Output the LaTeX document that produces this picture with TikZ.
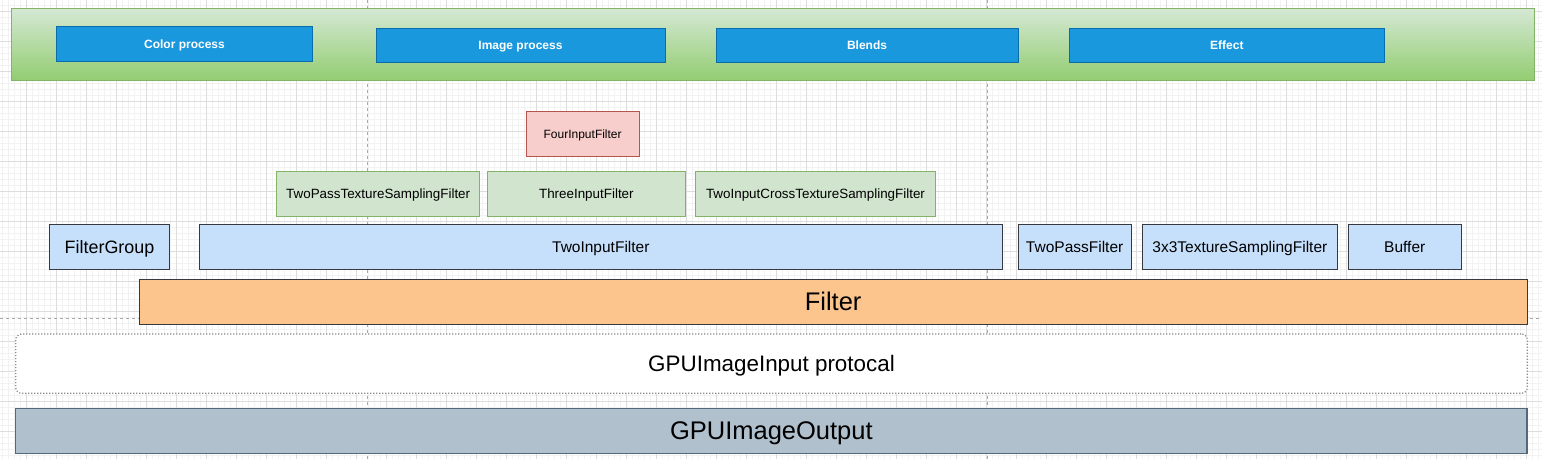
\documentclass[tikz,border=0pt]{standalone}
\usepackage{fontspec}
\setmainfont{Liberation Sans}
\definecolor{gridminor}{HTML}{F2F2F2}
\definecolor{gridmajor}{HTML}{DDDDDD}
\definecolor{pagebreak}{HTML}{A8A8A8}
\definecolor{bandtop}{HTML}{D5E8D4}
\definecolor{bandbot}{HTML}{93CD72}
\definecolor{bandstroke}{HTML}{82B366}
\definecolor{hdrfill}{HTML}{1A98DD}
\definecolor{hdrstroke}{HTML}{0A6CAA}
\definecolor{lbluefill}{HTML}{C6E0FC}
\definecolor{darkstroke}{HTML}{36393D}
\definecolor{lgreenfill}{HTML}{D0E4CE}
\definecolor{greenstroke}{HTML}{82B366}
\definecolor{redfill}{HTML}{F8CECC}
\definecolor{redstroke}{HTML}{B85450}
\definecolor{orangefill}{HTML}{FDC58E}
\definecolor{slatefill}{HTML}{B0C0CD}
\definecolor{slatestroke}{HTML}{53687D}
\definecolor{dotstroke}{HTML}{8C8C8C}
\begin{document}
\begin{tikzpicture}[x=1pt,y=-1pt,
  base/.style={draw, inner sep=0pt, outer sep=0pt, anchor=north west, line width=1pt, text depth=0pt},
  hdrbox/.style={base, fill=hdrfill, draw=hdrstroke, text=white, font=\fontsize{12}{14}\selectfont\bfseries, text height=8.6pt},
  lbluebox/.style={base, fill=lbluefill, draw=darkstroke, font=\fontsize{15.5}{18}\selectfont, text height=11.1pt},
  lgreenbox/.style={base, fill=lgreenfill, draw=greenstroke, font=\fontsize{13.4}{16}\selectfont, text height=9.6pt},
  redbox/.style={base, fill=redfill, draw=redstroke, font=\fontsize{12}{14}\selectfont, text height=8.6pt},
  bigbox/.style={base, font=\fontsize{25.5}{30}\selectfont, text height=18.3pt},
  minorline/.style={draw=gridminor, line width=0.8pt},
  majorline/.style={draw=gridmajor, line width=0.8pt},
  pbline/.style={draw=pagebreak, line width=0.8pt, dash pattern=on 3pt off 3pt}
]
\useasboundingbox (0,0) rectangle (1542,459);
\fill[white] (0,0) rectangle (1542,459);
% grid
\foreach \gx in {2.7,8.7,...,1542} { \draw[minorline] (\gx,0) -- (\gx,459); }
\foreach \gy in {5.7,11.7,...,459} { \draw[minorline] (0,\gy) -- (1542,\gy); }
\foreach \gx in {26.7,56.7,...,1542} { \draw[majorline] (\gx,0) -- (\gx,459); }
\foreach \gy in {11.7,41.7,...,459} { \draw[majorline] (0,\gy) -- (1542,\gy); }
% page breaks
\draw[pbline] (367.3,0) -- (367.3,459);
\draw[pbline] (987.5,0) -- (987.5,459);
\draw[pbline] (0,318.3) -- (1542,318.3);
% top band
\node[base, draw=bandstroke, top color=bandtop, bottom color=bandbot, minimum width=1522.3pt, minimum height=71.5pt] (band) at (11.7,8.5) {};
\node[hdrbox, minimum width=255.6pt, minimum height=34.3pt] (color) at (56.7,26.7) {Color process};
\node[hdrbox, minimum width=289pt, minimum height=34pt] (image) at (376,28.3) {Image process};
\node[hdrbox, minimum width=302pt, minimum height=34pt] (blends) at (716,28.3) {Blends};
\node[hdrbox, minimum width=315.7pt, minimum height=34pt] (effect) at (1069,28.3) {Effect};
% four input
\node[redbox, minimum width=113.3pt, minimum height=45.7pt] (four) at (526,111) {FourInputFilter};
% green row
\node[lgreenbox, minimum width=203pt, minimum height=45.5pt] (tpts) at (276.7,171) {TwoPassTextureSamplingFilter};
\node[lgreenbox, minimum width=198.7pt, minimum height=45.5pt] (three) at (487,171) {ThreeInputFilter};
\node[lgreenbox, minimum width=240.4pt, minimum height=45.5pt] (tict) at (695.3,171) {TwoInputCrossTextureSamplingFilter};
% blue row
\node[lbluebox, font=\fontsize{17.9}{21}\selectfont, text height=12.8pt, minimum width=120.4pt, minimum height=45pt] (group) at (49.3,224.3) {FilterGroup};
\node[lbluebox, minimum width=803pt, minimum height=45pt] (twoinput) at (199.3,224.3) {TwoInputFilter};
\node[lbluebox, minimum width=113.3pt, minimum height=45pt] (twopass) at (1018,224.3) {TwoPassFilter};
\node[lbluebox, minimum width=195.7pt, minimum height=45pt] (tex3) at (1142,224.3) {3x3TextureSamplingFilter};
\node[lbluebox, minimum width=113.5pt, minimum height=45pt] (buffer) at (1348,224.3) {Buffer};
% filter
\node[bigbox, fill=orangefill, draw=darkstroke, minimum width=1387.7pt, minimum height=45pt] (filter) at (139.3,279) {Filter};
% input protocol
\node[base, rounded corners=6pt, fill=white, draw=dotstroke, dash pattern=on 1.2pt off 1.8pt, line width=1.3pt, font=\fontsize{22.4}{26}\selectfont, text height=16pt, minimum width=1511.6pt, minimum height=59.3pt] (input) at (15.7,334) {GPUImageInput protocal};
% output
\node[bigbox, fill=slatefill, draw=slatestroke, line width=1.2pt, minimum width=1511.3pt, minimum height=45pt] (output) at (15.7,408.3) {GPUImageOutput};
\end{tikzpicture}
\end{document}
